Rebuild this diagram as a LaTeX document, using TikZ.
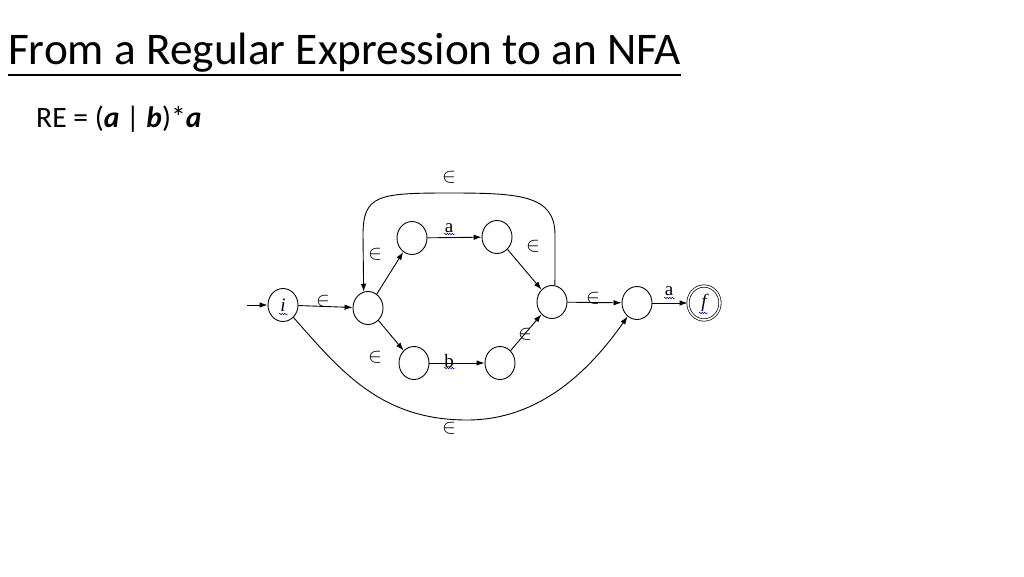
\documentclass[tikz,border=0pt]{standalone}
\usepackage{fontspec}
\setmainfont{Carlito}
\newfontfamily\serifface{Liberation Serif}
\usetikzlibrary{shapes.geometric,arrows.meta,decorations.pathmorphing}
\begin{document}
\begin{tikzpicture}[x=1pt,y=-1pt,
  st/.style={draw, ellipse, minimum width=30pt, minimum height=33pt, inner sep=0pt, line width=0.9pt},
  acc/.style={draw, ellipse, minimum width=32pt, minimum height=34pt, inner sep=0pt, line width=0.7pt, double, double distance=1.6pt},
  arr/.style={line width=0.9pt, -{Latex[length=8pt,width=5.5pt]}},
  eps/.style={font=\fontsize{20}{20}\selectfont, inner sep=0pt},
  sym/.style={font=\serifface\fontsize{19}{19}\selectfont, inner sep=0pt},
  squig/.style={draw=blue!80!black, line width=0.5pt, decorate, decoration={snake, segment length=2.5pt, amplitude=0.8pt}}
]
\useasboundingbox (0,0) rectangle (1024,576);
% title
\node[anchor=base west, font=\fontsize{45.3}{54}\selectfont, inner sep=0pt] (title) at (8,64) {From a Regular Expression to an NFA};
\draw[line width=1.8pt] ([yshift=-11pt]title.base west) -- ([yshift=-11pt]title.base east);
\node[anchor=base west, font=\fontsize{29.6}{35}\selectfont, inner sep=0pt] (re) at (36,127) {RE = (\textbf{\textit{a}} | \textbf{\textit{b}})*\textbf{\textit{a}}};
% states
\node[st] (i) at (283,305) {\serifface\itshape\fontsize{19}{19}\selectfont i};
\node[st] (n1) at (368,308) {};
\node[st] (n2) at (412,238) {};
\node[st] (n3) at (497,237) {};
\node[st] (n4) at (414,363) {};
\node[st] (n5) at (500,363) {};
\node[st] (n6) at (552,302) {};
\node[st] (n7) at (637,303) {};
\node[acc] (f) at (704,303) {\serifface\itshape\fontsize{19}{19}\selectfont f};
\coordinate (start) at (247,305);
% edges
\draw[arr] (start) -- (i);
\draw[arr] (i) -- (n1);
\draw[arr] (n1) -- (n2);
\draw[arr] (n1) -- (n4);
\draw[arr] (n2) -- (n3);
\draw[arr] (n4) -- (n5);
\draw[arr] (n3) -- (n6);
\draw[arr] (n5) -- (n6);
\draw[arr] (n6) -- (n7);
\draw[arr] (n7) -- (f);
% loop back
\coordinate (lr) at (555,235);
\coordinate (ll) at (363,235);
\coordinate (lt) at (449,193);
\draw[arr] (n6.80) -- (lr) .. controls (555,195) and (520,193) .. (lt) .. controls (378,193) and (363,195) .. (ll) -- (n1.105);
% bypass
\coordinate (lb) at (467,420);
\draw[arr] (i.-50) .. controls (340,370) and (380,420) .. (lb) .. controls (540,420) and (590,370) .. (n7.-125);
% labels
\node[eps] (e1) at (323,301) {$\in$};
\node[eps] (e2) at (449,177) {$\in$};
\node[eps] (e3) at (375,254) {$\in$};
\node[eps] (e4) at (533,246) {$\in$};
\node[eps] (e5) at (593,298) {$\in$};
\node[eps] (e6) at (375,357) {$\in$};
\node[eps] (e7) at (525,334) {$\in$};
\node[eps] (e8) at (449,428) {$\in$};
\node[sym] (la) at (449,228) {a};
\node[sym] (lb2) at (449,361) {b};
\node[sym] (la2) at (669,291) {a};
% spelling squiggles
\draw[squig] (444,234) -- (455,234);
\draw[squig] (444,368) -- (455,368);
\draw[squig] (664,298) -- (675,298);
\draw[squig] (279,314) -- (288,314);
\draw[squig] (699,313) -- (708,313);
\end{tikzpicture}
\end{document}
